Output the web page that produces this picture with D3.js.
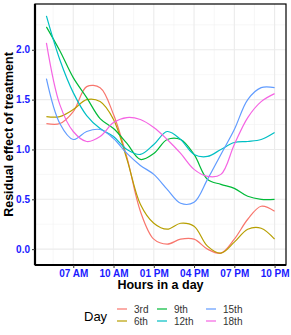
<!DOCTYPE html>
<html>
<head>
<meta charset="utf-8">
<script src="https://cdn.jsdelivr.net/npm/d3@7"></script>
<style>
  body { margin: 0; background: #fff; }
  svg text { font-family: "Liberation Sans", Arial, sans-serif; }
</style>
</head>
<body>
<div id="chart"></div>
<script>
(function(d3){

  // hours of the day (24h clock)
  var hours = [5, 6, 7, 8, 9, 10, 11, 12, 13, 14, 15, 16, 17, 18, 19, 20, 21, 22];

  // residual effect per day
  var day3  = [1.26, 1.26, 1.38, 1.63, 1.62, 1.35, 0.92, 0.38, 0.10, 0.05, 0.10, 0.10, 0.00, -0.04, 0.10, 0.30, 0.43, 0.38];
  var day6  = [1.33, 1.33, 1.40, 1.50, 1.48, 1.30, 0.90, 0.45, 0.26, 0.20, 0.26, 0.23, 0.03, -0.04, 0.07, 0.20, 0.21, 0.10];
  var day9  = [2.23, 1.99, 1.72, 1.52, 1.31, 1.21, 1.06, 0.90, 0.96, 1.10, 1.10, 0.95, 0.70, 0.65, 0.61, 0.53, 0.50, 0.50];
  var day12 = [2.34, 1.90, 1.57, 1.34, 1.21, 1.13, 1.00, 0.95, 1.05, 1.18, 1.10, 0.95, 0.93, 1.00, 1.07, 1.08, 1.10, 1.17];
  var day15 = [1.71, 1.26, 1.10, 1.18, 1.20, 1.11, 0.96, 0.84, 0.75, 0.60, 0.46, 0.47, 0.70, 0.95, 1.20, 1.50, 1.62, 1.62];
  var day18 = [2.07, 1.45, 1.18, 1.08, 1.13, 1.27, 1.32, 1.30, 1.22, 1.10, 0.96, 0.80, 0.73, 0.75, 1.05, 1.32, 1.48, 1.56];

  var dayNames = ['3rd', '6th', '9th', '12th', '15th', '18th'];
  var dayColors = ['#F8766D', '#B79F00', '#00BA38', '#00BFC4', '#619CFF', '#F564E3'];
  var series = [day3, day6, day9, day12, day15, day18];

  var xTicks = [7, 10, 13, 16, 19, 22],
      xTickLabels = ['07 AM', '10 AM', '01 PM', '04 PM', '07 PM', '10 PM'],
      xMinor = [5.5, 8.5, 11.5, 14.5, 17.5, 20.5],
      yTicks = [0, 0.5, 1, 1.5, 2],
      yMinor = [0.25, 0.75, 1.25, 1.75, 2.25];

  var canvas_d = {width: 291, height: 335},
      panel = {left: 35, top: 4, right: 286, bottom: 265};

  var svg = d3.select('#chart').append('svg')
      .attr('width', canvas_d.width)
      .attr('height', canvas_d.height);

  // scales with ggplot style 5% expansion
  var xExt = d3.extent(hours),
      xPad = (xExt[1] - xExt[0]) * 0.05;
  var x = d3.scaleLinear()
      .domain([xExt[0] - xPad, xExt[1] + xPad])
      .range([panel.left, panel.right]);

  var yExt = d3.extent(d3.merge(series)),
      yPad = (yExt[1] - yExt[0]) * 0.05;
  var y = d3.scaleLinear()
      .domain([yExt[0] - yPad, yExt[1] + yPad])
      .range([panel.bottom, panel.top]);

  // grid
  var grid = svg.append('g');
  grid.selectAll('.xminor').data(xMinor).enter().append('line')
      .attr('x1', function(d){ return x(d); }).attr('x2', function(d){ return x(d); })
      .attr('y1', panel.top).attr('y2', panel.bottom)
      .attr('stroke', '#f2f2f2').attr('stroke-width', 0.6);
  grid.selectAll('.yminor').data(yMinor).enter().append('line')
      .attr('y1', function(d){ return y(d); }).attr('y2', function(d){ return y(d); })
      .attr('x1', panel.left).attr('x2', panel.right)
      .attr('stroke', '#f2f2f2').attr('stroke-width', 0.6);
  grid.selectAll('.xmajor').data(xTicks).enter().append('line')
      .attr('x1', function(d){ return x(d); }).attr('x2', function(d){ return x(d); })
      .attr('y1', panel.top).attr('y2', panel.bottom)
      .attr('stroke', '#ebebeb').attr('stroke-width', 1.1);
  grid.selectAll('.ymajor').data(yTicks).enter().append('line')
      .attr('y1', function(d){ return y(d); }).attr('y2', function(d){ return y(d); })
      .attr('x1', panel.left).attr('x2', panel.right)
      .attr('stroke', '#ebebeb').attr('stroke-width', 1.1);

  // lines
  var line = d3.line()
      .x(function(d, i){ return x(hours[i]); })
      .y(function(d){ return y(d); })
      .curve(d3.curveCatmullRom.alpha(0.5));

  svg.append('g').selectAll('path')
      .data(series)
    .enter().append('path')
      .attr('d', line)
      .attr('fill', 'none')
      .attr('stroke', function(d, i){ return dayColors[i]; })
      .attr('stroke-width', 1.2);

  // panel border
  svg.append('rect')
      .attr('x', panel.left).attr('y', panel.top)
      .attr('width', panel.right - panel.left)
      .attr('height', panel.bottom - panel.top)
      .attr('fill', 'none').attr('stroke', '#000').attr('stroke-width', 1.2);

  // axes
  var xAxis = d3.axisBottom(x)
      .tickValues(xTicks)
      .tickFormat(function(d, i){ return xTickLabels[i]; })
      .tickSize(3).tickPadding(2);
  var yAxis = d3.axisLeft(y)
      .tickValues(yTicks)
      .tickFormat(d3.format('.1f'))
      .tickSize(3).tickPadding(2);

  var gx = svg.append('g')
      .attr('transform', 'translate(0,' + panel.bottom + ')')
      .call(xAxis);
  var gy = svg.append('g')
      .attr('transform', 'translate(' + panel.left + ',0)')
      .call(yAxis);

  [gx, gy].forEach(function(g){
    g.select('.domain').attr('stroke', '#000').attr('stroke-width', 2.2);
    g.selectAll('.tick line').attr('stroke', '#333').attr('stroke-width', 1);
    g.selectAll('.tick text')
        .attr('fill', '#1a1aff')
        .style('font-size', '10px')
        .style('font-weight', 'bold');
  });
  gx.select('.domain').attr('d', 'M' + panel.left + ',0H' + panel.right);
  gy.select('.domain').attr('d', 'M0,' + panel.top + 'V' + panel.bottom);

  // axis titles
  svg.append('text')
      .attr('x', (panel.left + panel.right) / 2)
      .attr('y', 289)
      .attr('text-anchor', 'middle')
      .style('font-size', '12.5px').style('font-weight', 'bold')
      .text('Hours in a day');

  svg.append('text')
      .attr('transform', 'translate(13,' + ((panel.top + panel.bottom) / 2) + ') rotate(-90)')
      .attr('text-anchor', 'middle')
      .style('font-size', '12.5px').style('font-weight', 'bold')
      .text('Residual effect of treatment');

  // legend
  var legend = svg.append('g');
  legend.append('text')
      .attr('x', 84).attr('y', 321)
      .style('font-size', '13px')
      .text('Day');

  var colX = [117, 157, 206];
  var rowY = [309, 321];
  var items = legend.selectAll('.item')
      .data(dayNames)
    .enter().append('g')
      .attr('transform', function(d, i){
        return 'translate(' + colX[Math.floor(i / 2)] + ',' + rowY[i % 2] + ')';
      });
  items.append('line')
      .attr('x1', 0).attr('x2', 10)
      .attr('y1', 0).attr('y2', 0)
      .attr('stroke', function(d, i){ return dayColors[i]; })
      .attr('stroke-width', 1.2);
  items.append('text')
      .attr('x', 17).attr('y', 3.5)
      .style('font-size', '10px')
      .attr('fill', '#333')
      .text(function(d){ return d; });

})(d3);
</script>
</body>
</html>
